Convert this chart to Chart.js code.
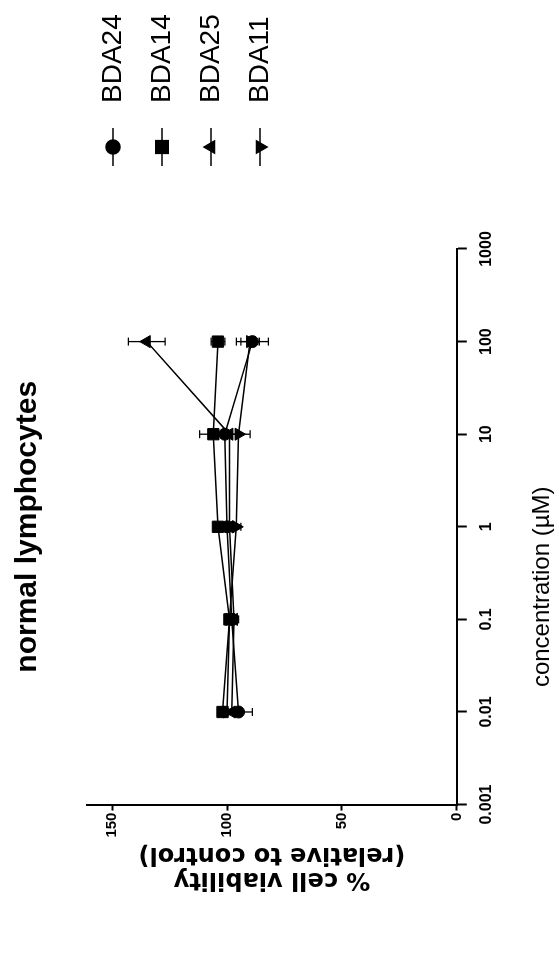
<!DOCTYPE html>
<html>
<head>
<meta charset="utf-8">
<script src="https://cdn.jsdelivr.net/npm/chart.js@4.4.0/dist/chart.umd.min.js"></script>
<style>
  html, body { margin: 0; padding: 0; background: #fff; overflow: hidden; }
  #wrap {
    position: absolute; left: 0; top: 0;
    width: 957px; height: 559px;
    transform-origin: 0 0;
    transform: translate(0, 957px) rotate(-90deg);
  }
</style>
</head>
<body>
<div id="wrap"><canvas id="chart" width="957" height="559"></canvas></div>
<script>
// concentrations (uM) and % viability per compound
const concentrations = [0.01, 0.1, 1, 10, 100];
const xTickValues = [0.001, 0.01, 0.1, 1, 10, 100, 1000];
const yTickValues = [0, 50, 100, 150];

const bda24 = [95, 98, 100, 101, 89];
const bda24Err = [6, 2, 2, 3, 7];
const bda14 = [102, 99, 104, 106, 104];
const bda14Err = [2, 2, 2, 6, 3];
const bda25 = [98, 97, 99, 99, 135];
const bda25Err = [2, 2, 2, 3, 8];
const bda11 = [100, 99, 96, 95, 90];
const bda11Err = [3, 2, 2, 5, 4];

const xTitle = 'concentration (\u00b5M)';

const FONT = "'Liberation Sans', Arial, sans-serif";
const WIDE = "'DejaVu Sans', Verdana, sans-serif";

function pts(vals) {
    return concentrations.map((c, i) => ({ x: c, y: vals[i] }));
}

// legend icon: short line with the marker on it
function makeIcon(style, rot) {
    const c = document.createElement('canvas');
    c.width = 40; c.height = 18;
    const g = c.getContext('2d');
    g.strokeStyle = '#000';
    g.lineWidth = 1.5;
    g.beginPath(); g.moveTo(1, 9); g.lineTo(39, 9); g.stroke();
    Chart.helpers.drawPoint(g, { pointStyle: style, rotation: rot, radius: style === 'rect' ? 9 : 7, borderWidth: 1 }, 20, 9);
    g.fillStyle = '#000';
    g.fill();
    return c;
}

const series = [
    { label: 'BDA24', data: bda24, err: bda24Err, style: 'circle', rot: 0, r: 6 },
    { label: 'BDA14', data: bda14, err: bda14Err, style: 'rect', rot: 0, r: 8 },
    { label: 'BDA25', data: bda25, err: bda25Err, style: 'triangle', rot: 0, r: 7 },
    { label: 'BDA11', data: bda11, err: bda11Err, style: 'triangle', rot: 180, r: 7 }
];

const errorBars = {
    id: 'errorBars',
    afterDatasetsDraw(chart) {
        const ctx = chart.ctx;
        const xs = chart.scales.x, ys = chart.scales.y;
        ctx.save();
        ctx.strokeStyle = '#000';
        ctx.lineWidth = 1.3;
        series.forEach(s => {
            concentrations.forEach((c, i) => {
                const px = xs.getPixelForValue(c);
                const top = ys.getPixelForValue(s.data[i] + s.err[i]);
                const bot = ys.getPixelForValue(s.data[i] - s.err[i]);
                ctx.beginPath();
                ctx.moveTo(px, top); ctx.lineTo(px, bot);
                ctx.moveTo(px - 4, top); ctx.lineTo(px + 4, top);
                ctx.moveTo(px - 4, bot); ctx.lineTo(px + 4, bot);
                ctx.stroke();
            });
        });
        ctx.restore();
    }
};

// x axis title sits left of the axis centre in the original
const xAxisTitle = {
    id: 'xAxisTitle',
    afterDraw(chart) {
        const xs = chart.scales.x;
        const ctx = chart.ctx;
        ctx.save();
        ctx.fillStyle = '#000';
        ctx.font = '24px ' + FONT;
        ctx.textAlign = 'center';
        ctx.textBaseline = 'middle';
        ctx.fillText(xTitle, xs.left + 0.392 * (xs.right - xs.left), 542);
        ctx.restore();
    }
};

// centre the title over the plot and park the legend beside it
const placeBoxes = {
    id: 'placeBoxes',
    afterLayout(chart) {
        const area = chart.chartArea;
        const t = chart.titleBlock;
        if (t) { t.left = area.left; t.right = area.right; }
        const lg = chart.legend;
        if (lg) {
            const pad = lg.options.labels.padding;
            const fs = lg.options.labels.font.size;
            const w = lg.width, h = lg.height;
            lg.left = 780 - pad;
            lg.top = 113 - fs / 2 - pad;
            lg.right = lg.left + w;
            lg.bottom = lg.top + h;
        }
    }
};

new Chart(document.getElementById('chart'), {
    type: 'line',
    data: {
        datasets: series.map(s => ({
            label: s.label,
            data: pts(s.data),
            borderColor: '#000',
            backgroundColor: '#000',
            borderWidth: 1.5,
            pointStyle: s.style,
            pointRotation: s.rot,
            pointRadius: s.r,
            pointBorderWidth: 1,
            tension: 0
        }))
    },
    options: {
        responsive: false,
        devicePixelRatio: 1,
        animation: false,
        layout: { padding: { left: 63, right: 249, top: 10, bottom: 53 } },
        scales: {
            x: {
                type: 'logarithmic',
                min: 0.001,
                max: 1000,
                afterBuildTicks: s => { s.ticks = xTickValues.map(v => ({ value: v })); },
                ticks: {
                    color: '#000',
                    font: { family: FONT, size: 16, weight: 'bold' },
                    padding: 10,
                    maxRotation: 0,
                    callback: v => String(v)
                },
                grid: { drawOnChartArea: false, tickLength: 10, tickWidth: 2, color: '#000' },
                border: { display: true, color: '#000', width: 2 }
            },
            y: {
                min: 0,
                max: 161,
                afterBuildTicks: s => { s.ticks = yTickValues.map(v => ({ value: v })); },
                ticks: {
                    color: '#000',
                    font: { family: FONT, size: 15, weight: 'bold' },
                    padding: 2
                },
                grid: { drawOnChartArea: false, tickLength: 6, tickWidth: 2, color: '#000' },
                border: { display: true, color: '#000', width: 2 },
                title: {
                    display: true,
                    text: ['% cell viability', '(relative to control)'],
                    color: '#000',
                    font: { family: WIDE, size: 24, weight: 'bold', lineHeight: 1.05 },
                    padding: { top: 2, bottom: 2 }
                }
            }
        },
        plugins: {
            title: {
                display: true,
                text: 'normal lymphocytes',
                color: '#000',
                font: { family: FONT, size: 30, weight: 'bold', lineHeight: 1.2 },
                padding: { top: 0, bottom: 41 }
            },
            legend: {
                position: 'chartArea',
                align: 'start',
                labels: {
                    usePointStyle: true,
                    pointStyleWidth: 60,
                    padding: 21,
                    color: '#000',
                    font: { family: FONT, size: 28 },
                    generateLabels: chart => {
                        const items = Chart.defaults.plugins.legend.labels.generateLabels(chart);
                        return items.map((it, i) => Object.assign(it, {
                            pointStyle: makeIcon(series[i].style, series[i].rot),
                            rotation: 0
                        }));
                    }
                }
            },
            tooltip: { enabled: false }
        }
    },
    plugins: [errorBars, xAxisTitle, placeBoxes]
});
</script>
</body>
</html>
